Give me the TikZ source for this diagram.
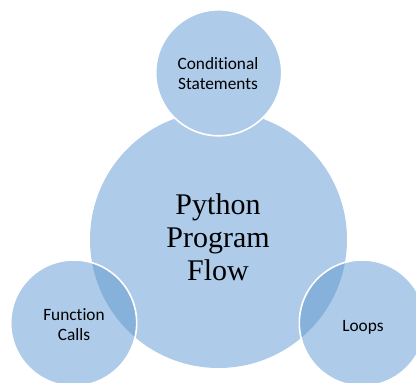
\documentclass[tikz,border=0pt]{standalone}
\usepackage{fontspec}
\setmainfont{Liberation Serif}
\newfontfamily\calib[Ligatures=NoCommon]{Carlito}
\definecolor{lightblue}{RGB}{174,203,233}
\definecolor{darkblue}{RGB}{133,177,219}
\begin{document}
\begin{tikzpicture}[x=1pt,y=-1pt,
  smallcirc/.style={circle,fill=lightblue,draw=white,line width=1.6pt,minimum size=126pt,inner sep=0pt},
  smalltext/.style={font=\calib\fontsize{17.3}{20}\selectfont,align=center,inner sep=0pt},
  bigtext/.style={font=\fontsize{30}{33}\selectfont,align=center,inner sep=0pt}]
\useasboundingbox (0,0) rectangle (416,383);
% big circle
\fill[lightblue] (218.5,239.5) circle (128.5);
\coordinate (bigc) at (218.5,239.5);
% top circle (opaque)
\node[smallcirc] (top) at (218.7,72.8) {};
% left and right circles
\node[circle,fill=lightblue,minimum size=126pt,inner sep=0pt] (left) at (73.7,323) {};
\node[circle,fill=lightblue,minimum size=126pt,inner sep=0pt] (right) at (362.3,323) {};
\begin{scope}
  \clip (bigc) circle (128.5);
  \fill[darkblue] (left.center) circle (63);
  \fill[darkblue] (right.center) circle (63);
\end{scope}
\draw[white,line width=1.6pt] (left.center) circle (63);
\draw[white,line width=1.6pt] (right.center) circle (63);
% texts
\node[bigtext] (main) at (218,237) {Python\\Program\\Flow};
\node[smalltext] (cond) at (218,73.5) {Conditional\\Statements};
\node[smalltext] (func) at (74,325) {Function\\Calls};
\node[smalltext] (loops) at (363,327) {Loops};
\end{tikzpicture}
\end{document}
